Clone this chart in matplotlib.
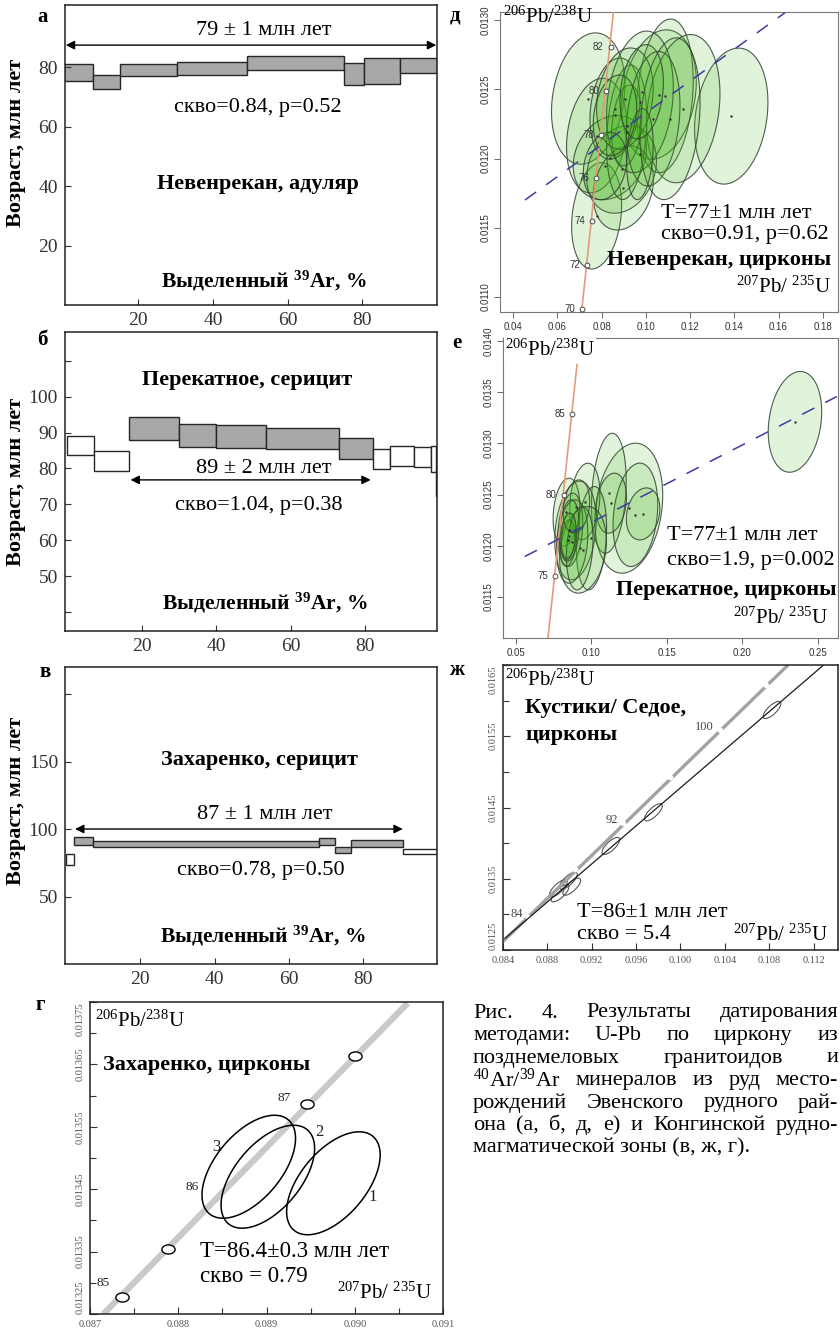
import numpy as np
import matplotlib
matplotlib.use('Agg')
import matplotlib.pyplot as plt
from matplotlib.path import Path
from matplotlib.transforms import Affine2D
from matplotlib.ticker import MultipleLocator, FixedLocator, FormatStrFormatter

plt.rcParams['font.family'] = ['Liberation Serif', 'DejaVu Serif']
plt.rcParams['mathtext.default'] = 'regular'

SANS = ['Liberation Sans', 'DejaVu Sans']
W, H = 840, 1331

AGE_LABEL = 'Возраст, млн лет'
AR_LABEL = r'Выделенный $^{39}$Ar, %'
PB206 = r'$^{206}$Pb/$^{238}$U'
PB207 = r'$^{207}$Pb/ $^{235}$U'

# 40Ar/39Ar spectra: step edges (cumulative 39Ar, %), age limits (Ma), plateau steps
a_edges = [0, 8, 15, 30.5, 49, 75, 80.5, 90, 100]
a_lo = [75.3, 72.8, 77.2, 77.4, 79.0, 74.1, 74.5, 78.1]
a_hi = [81.2, 77.4, 81.2, 81.8, 83.7, 81.5, 83.3, 83.0]
a_plateau = [1, 1, 1, 1, 1, 1, 1, 1]

b_edges = [0, 7.3, 16.5, 30.1, 39.9, 53.4, 72.9, 82.1, 86.8, 93.1, 97.8, 98.9, 99.3]
b_lo = [83.8, 79.3, 88.0, 86.1, 85.8, 85.3, 82.6, 79.9, 80.7, 80.5, 78.9, 72.2]
b_hi = [89.1, 84.9, 94.2, 92.3, 92.1, 91.2, 88.4, 85.4, 86.3, 86.1, 86.3, 79.6]
b_plateau = [0, 0, 1, 1, 1, 1, 1, 0, 0, 0, 0, 0]

v_edges = [0, 2.1, 7.4, 68.1, 72.4, 76.7, 90.6, 99.8]
v_lo = [73.2, 88.1, 86.4, 88.1, 81.9, 86.4, 81.2]
v_hi = [81.2, 94.0, 91.1, 93.3, 86.4, 91.8, 85.4]
v_plateau = [0, 1, 1, 1, 1, 1, 0]

# U-Pb, Невенрекан: ellipse centres and half-axes (207Pb/235U, 206Pb/238U)
d_cx = [0.1386, 0.0739, 0.0777, 0.1059, 0.1086, 0.1169, 0.0777, 0.0837, 0.0890, 0.0898, 0.0913,
        0.0913, 0.0860, 0.0973, 0.0905, 0.1033, 0.1109, 0.0815, 0.0973, 0.0860, 0.0981]
d_cy = [0.012307, 0.012434, 0.011586, 0.012463, 0.012453, 0.012361, 0.012166, 0.012007, 0.011922,
        0.011788, 0.012190, 0.012239, 0.012361, 0.012410, 0.012434, 0.012288, 0.012288, 0.011946,
        0.012032, 0.012312, 0.012483]
d_sx = [0.0166, 0.0166, 0.0113, 0.0169, 0.0128, 0.0166, 0.0136, 0.0166, 0.0158, 0.0136, 0.0091,
        0.0068, 0.0113, 0.0151, 0.0128, 0.0121, 0.0136, 0.0098, 0.0060, 0.0098, 0.0098]
d_sy = [0.000492, 0.000475, 0.000385, 0.000468, 0.000556, 0.000536, 0.000414, 0.000305, 0.000317,
        0.000305, 0.000487, 0.000292, 0.000366, 0.000512, 0.000366, 0.000487, 0.000585, 0.000244,
        0.000329, 0.000292, 0.000341]
d_conc_age = [70, 72, 74, 76, 78, 80, 82]
d_conc_x = [0.0710, 0.0733, 0.0755, 0.0776, 0.0797, 0.0819, 0.0841]
d_conc_y = [0.01091, 0.01123, 0.01155, 0.01186, 0.01217, 0.01249, 0.01281]
d_curve_x = [0.0709, 0.0853]
d_curve_y = [0.01089, 0.01306]
d_fit_x = [0.0453, 0.1629]
d_fit_y = [0.01170, 0.013055]

# U-Pb, Перекатное
e_cx = [0.2350, 0.1249, 0.1117, 0.1293, 0.1344, 0.1134, 0.0958, 0.1002, 0.0896, 0.0836, 0.0946,
        0.0862, 0.0847, 0.0847, 0.0874, 0.0902, 0.0924, 0.0850, 0.0855]
e_cy = [0.013211, 0.012368, 0.012514, 0.012303, 0.012312, 0.012417, 0.012433, 0.012075, 0.012150,
        0.012329, 0.011961, 0.012156, 0.012059, 0.012059, 0.012042, 0.012384, 0.011977, 0.012100,
        0.012150]
e_sx = [0.0177, 0.0225, 0.0115, 0.0148, 0.0111, 0.0100, 0.0100, 0.0100, 0.0137, 0.0088, 0.0155,
        0.0082, 0.0055, 0.0044, 0.0104, 0.0088, 0.0088, 0.0050, 0.0065]
e_sy = [0.000492, 0.000635, 0.000586, 0.000505, 0.000254, 0.000293, 0.000374, 0.000505, 0.000482,
        0.000332, 0.000423, 0.000358, 0.000260, 0.000195, 0.000407, 0.000260, 0.000407, 0.000220,
        0.000300]
e_conc_age = [75, 80, 85]
e_conc_x = [0.0759, 0.0818, 0.0873]
e_conc_y = [0.011707, 0.012498, 0.013286]
e_curve_x = [0.0714, 0.0906]
e_curve_y = [0.01110, 0.01377]
e_fit_x = [0.0560, 0.2627]
e_fit_y = [0.011896, 0.013458]

# U-Pb, Кустики/Седое
zh_cx = [0.10825, 0.09756, 0.09372, 0.08989, 0.08899, 0.08914, 0.09020]
zh_cy = [0.015868, 0.014433, 0.013960, 0.013473, 0.013366, 0.013296, 0.013388]
zh_conc_age = [84, 88, 92, 96, 100, 104]
zh_conc_x = [0.08628, 0.09050, 0.09486, 0.09907, 0.10352, 0.10773]
zh_conc_y = [0.012963, 0.013633, 0.014287, 0.014932, 0.015588, 0.016219]
zh_curve_x = [0.0840, 0.1097]
zh_curve_y = [0.01262, 0.01650]
zh_fit_x = [0.08418, 0.1129]
zh_fit_y = [0.012664, 0.01650]
zh_yticks = [0.0125, 0.0135, 0.0145, 0.0155, 0.0165]

# U-Pb, Захаренко
g_cx = [0.089758, 0.089015, 0.088799]
g_cy = [0.0134595, 0.013470, 0.013486]
g_names = ['1', '2', '3']
g_name_x = [0.090201, 0.089594, 0.088432]
g_name_y = [0.013438, 0.013541, 0.013518]
g_conc_x = [0.08736, 0.087883, 0.089455, 0.090003]
g_conc_y = [0.013277, 0.013354, 0.013586, 0.013664]
g_age = ['85', '86', '87']
g_age_x = [0.087151, 0.088156, 0.089205]
g_age_y = [0.013300, 0.013454, 0.013596]
g_curve_x = [0.087151, 0.090599]
g_curve_y = [0.013250, 0.013748]
g_yticks = [0.01325, 0.01335, 0.01345, 0.01355, 0.01365, 0.01375]

caption = [
    ['Рис.', '4.', 'Результаты', 'датирования'],
    ['методами:', 'U-Pb', 'по', 'циркону', 'из'],
    ['позднемеловых', 'гранитоидов', 'и'],
    [r'$^{40}$Ar/$^{39}$Ar', 'минералов', 'из', 'руд', 'место-'],
    ['рождений', 'Эвенского', 'рудного', 'рай-'],
    ['она', '(а,', 'б,', 'д,', 'е)', 'и', 'Конгинской', 'рудно-'],
    ['магматической зоны (в, ж, г).'],
]

fig = plt.figure(figsize=(W / 100, H / 100), dpi=100)


def px_axes(left, top, right, bottom):
    return fig.add_axes([left / W, 1 - bottom / H, (right - left) / W, (bottom - top) / H])


def px_text(x, y, s, **kw):
    return fig.text(x / W, 1 - y / H, s, **kw)


def error_ellipse(ax, cx, cy, sx, sy, rho, **kw):
    t = np.linspace(0, 2 * np.pi, 120)
    x = cx + sx * np.cos(t)
    y = cy + sy * (rho * np.cos(t) + np.sqrt(1 - rho ** 2) * np.sin(t))
    ax.fill(x, y, **kw)


def spectrum(ax, edges, lo, hi, plateau, xlim, ylim, yticks, ylabels, label_y):
    edges = np.asarray(edges)
    lo = np.asarray(lo)
    hi = np.asarray(hi)
    colors = ['#a8a8a8' if p else 'white' for p in plateau]
    ax.bar(edges[:-1], hi - lo, width=np.diff(edges), bottom=lo, align='edge',
           color=colors, edgecolor='#262626', linewidth=1.0)
    ax.set_xlim(xlim)
    ax.set_ylim(ylim)
    ax.set_xticks([20, 40, 60, 80])
    ax.set_yticks(yticks)
    ax.set_yticklabels(ylabels)
    ax.tick_params(direction='in', length=4, width=0.8, labelsize=14,
                   colors='#333333', pad=5)
    for s in ax.spines.values():
        s.set_linewidth(1.1)
        s.set_color('#222222')
    ax.set_ylabel(AGE_LABEL, fontsize=16, fontweight='bold')
    ax.yaxis.set_label_coords(-0.104, label_y)


def plateau_arrow(ax, x0, x1, y):
    ax.annotate('', xy=(x1, y), xytext=(x0, y),
                arrowprops=dict(arrowstyle='<|-|>', color='black', lw=1.0,
                                mutation_scale=13, shrinkA=0, shrinkB=0))


def ctext(ax, x, y, s, size=16, bold=False):
    ax.text(x, y, s, ha='center', va='center', fontsize=size,
            fontweight='bold' if bold else 'normal')


# а
ax = px_axes(65, 5, 437, 305)
spectrum(ax, a_edges, a_lo, a_hi, a_plateau, (0.4, 100), (0, 101),
         [20, 40, 60, 80], ['20', '40', '60', '80'], 0.54)
plateau_arrow(ax, 0.6, 99.8, 87.5)
ctext(ax, 53.5, 92.5, '79 ± 1 млн лет')
ctext(ax, 52, 66.6, 'скво=0.84, p=0.52')
ctext(ax, 52, 40.8, 'Невенрекан, адуляр', bold=True)
ctext(ax, 53.5, 8.1, AR_LABEL, size=15.5, bold=True)

# б
ax = px_axes(65, 332, 437, 631)
spectrum(ax, b_edges, b_lo, b_hi, b_plateau, (-0.6, 99.3), (34.7, 118),
         [40, 50, 60, 70, 80, 90, 100, 110], ['', '50', '60', '70', '80', '90', '100', ''], 0.5)
plateau_arrow(ax, 17, 81.5, 76.8)
ctext(ax, 48.3, 104.6, 'Перекатное, серицит', bold=True)
ctext(ax, 52.7, 80.0, '89 ± 2 млн лет')
ctext(ax, 51.5, 69.8, 'скво=1.04, p=0.38')
ctext(ax, 53, 42.5, AR_LABEL, size=15.5, bold=True)

# в
ax = px_axes(65, 667, 437, 964)
spectrum(ax, v_edges, v_lo, v_hi, v_plateau, (-0.2, 99.8), (0, 220),
         [50, 100, 150, 200], ['50', '100', '150', ''], 0.55)
plateau_arrow(ax, 2.5, 90.6, 100)
ctext(ax, 52, 151, 'Захаренко, серицит', bold=True)
ctext(ax, 53.6, 110.4, '87 ± 1 млн лет')
ctext(ax, 52.5, 69.5, 'скво=0.78, p=0.50')
ctext(ax, 53, 21, AR_LABEL, size=15.5, bold=True)


def zircon_axes(ax, xlim, ylim, xstep, ystep, xfmt, yfmt):
    ax.set_xlim(xlim)
    ax.set_ylim(ylim)
    ax.xaxis.set_major_locator(MultipleLocator(xstep))
    ax.yaxis.set_major_locator(MultipleLocator(ystep))
    ax.xaxis.set_major_formatter(FormatStrFormatter(xfmt))
    ax.yaxis.set_major_formatter(FormatStrFormatter(yfmt))
    ax.tick_params(direction='out', length=4, width=0.7, colors='#666666',
                   labelsize=7, labelcolor='#333333', pad=3)
    ax.tick_params(axis='y', labelrotation=90)
    for lab in ax.get_yticklabels():
        lab.set_family(SANS)
        lab.set_va('center')
    for lab in ax.get_xticklabels():
        lab.set_family(SANS)
    for s in ax.spines.values():
        s.set_linewidth(0.8)
        s.set_color('#777777')


def zircon_text(ax, x, y, s, ha='left', size=16, bold=False, **kw):
    ax.text(x, y, s, transform=ax.transAxes, fontsize=size, ha=ha, va='center',
            fontweight='bold' if bold else 'normal', **kw)


# д
ax = px_axes(500, 12, 838, 312)
zircon_axes(ax, (0.034, 0.1869), (0.01089, 0.01306), 0.02, 0.0005, '%.2f', '%.4f')
for cx, cy, sx, sy in zip(d_cx, d_cy, d_sx, d_sy):
    error_ellipse(ax, cx, cy, sx, sy, 0.2, facecolor=(0.24, 0.70, 0.08, 0.15),
                  edgecolor=(0.2, 0.25, 0.2, 0.85), linewidth=0.8)
ax.plot(d_cx, d_cy, linestyle='none', marker='.', ms=1.5, color='#333333')
ax.plot(d_curve_x, d_curve_y, color='#e39a7a', lw=1.2, zorder=3)
ax.plot(d_conc_x, d_conc_y, linestyle='none', marker='o', ms=3.5, mfc='white',
        mec='#333333', mew=0.6, zorder=4)
for age, x, y in zip(d_conc_age, d_conc_x, d_conc_y):
    ax.annotate(str(age), (x, y), xytext=(-5, 0), textcoords='offset points',
                ha='right', va='center', fontsize=7, family=SANS, color='#333333')
ax.plot(d_fit_x, d_fit_y, color='#3c3ca0', lw=1.1, dashes=(9, 8), zorder=5)
zircon_text(ax, 0.01, 0.983, PB206, size=15)
zircon_text(ax, 0.476, 0.329, 'T=77±1 млн лет')
zircon_text(ax, 0.476, 0.257, 'скво=0.91, p=0.62')
zircon_text(ax, 0.98, 0.173, 'Невенрекан, цирконы', ha='right', bold=True)
zircon_text(ax, 0.98, 0.083, PB207, ha='right', size=15)

# е
ax = px_axes(503, 338, 838, 638)
zircon_axes(ax, (0.0416, 0.2635), (0.0111, 0.01403), 0.05, 0.0005, '%.2f', '%.4f')
for cx, cy, sx, sy in zip(e_cx, e_cy, e_sx, e_sy):
    error_ellipse(ax, cx, cy, sx, sy, 0.2, facecolor=(0.24, 0.70, 0.08, 0.15),
                  edgecolor=(0.2, 0.25, 0.2, 0.85), linewidth=0.8)
ax.plot(e_cx, e_cy, linestyle='none', marker='.', ms=1.5, color='#333333')
ax.plot(e_curve_x, e_curve_y, color='#e39a7a', lw=1.2, zorder=3)
ax.plot(e_conc_x, e_conc_y, linestyle='none', marker='o', ms=3.5, mfc='white',
        mec='#333333', mew=0.6, zorder=4)
for age, x, y in zip(e_conc_age, e_conc_x, e_conc_y):
    ax.annotate(str(age), (x, y), xytext=(-5, 0), textcoords='offset points',
                ha='right', va='center', fontsize=7, family=SANS, color='#333333')
ax.plot(e_fit_x, e_fit_y, color='#3c3ca0', lw=1.1, dashes=(9, 8), zorder=5)
zircon_text(ax, 0.006, 0.96, PB206, size=15,
            bbox=dict(facecolor='white', edgecolor='none', pad=1), zorder=6)
zircon_text(ax, 0.489, 0.343, 'T=77±1 млн лет')
zircon_text(ax, 0.489, 0.26, 'скво=1.9, p=0.002')
zircon_text(ax, 0.997, 0.16, 'Перекатное, цирконы', ha='right', bold=True)
zircon_text(ax, 0.97, 0.067, PB207, ha='right', size=15)


def serif_concordia_axes(ax, xlim, ylim, xstep, xminor, yticks, yminor, xfmt, yfmt):
    ax.set_xlim(xlim)
    ax.set_ylim(ylim)
    ax.xaxis.set_major_locator(MultipleLocator(xstep))
    ax.xaxis.set_minor_locator(MultipleLocator(xminor))
    ax.yaxis.set_major_locator(FixedLocator(yticks))
    ax.yaxis.set_minor_locator(MultipleLocator(yminor))
    ax.xaxis.set_major_formatter(FormatStrFormatter(xfmt))
    ax.yaxis.set_major_formatter(FormatStrFormatter(yfmt))
    ax.tick_params(which='both', direction='in', width=0.8, colors='#333333',
                   labelsize=7.5, labelcolor='#555555', pad=4)
    ax.tick_params(which='major', length=5)
    ax.tick_params(which='minor', length=4)
    ax.tick_params(axis='y', labelrotation=90)
    labs = ax.get_yticklabels()
    for lab in labs:
        lab.set_va('center')
    labs[0].set_va('bottom')
    labs[-1].set_va('top')
    for s in ax.spines.values():
        s.set_linewidth(1.1)
        s.set_color('#222222')


# ж
ax = px_axes(503, 665, 838, 950)
serif_concordia_axes(ax, (0.084, 0.1142), (0.0125, 0.0165), 0.004, 0.004, zh_yticks, 0.0005,
                     '%.3f', '%.4f')
ax.plot(zh_curve_x, zh_curve_y, color='#a2a2a2', lw=2.4, solid_capstyle='butt')
ax.plot(zh_conc_x, zh_conc_y, linestyle='none', marker='o', ms=4, mfc='white', mec='none')
ax.plot(zh_fit_x, zh_fit_y, color='#1a1a1a', lw=0.9)
for cx, cy in zip(zh_cx, zh_cy):
    error_ellipse(ax, cx, cy, 0.0008, 0.00012, 0.75, facecolor='none',
                  edgecolor='#555555', linewidth=0.8)
for age, x, y in zip(zh_conc_age, zh_conc_x, zh_conc_y):
    if age in (84, 92, 100):
        ax.annotate(str(age), (x, y), xytext=(-4, 2), textcoords='offset points',
                    ha='right', va='center', fontsize=9, color='#444444')
zircon_text(ax, 0.005, 0.947, PB206, size=15)
zircon_text(ax, 0.066, 0.849, 'Кустики/ Седое,', bold=True)
zircon_text(ax, 0.066, 0.754, 'цирконы', bold=True)
zircon_text(ax, 0.22, 0.13, 'T=86±1 млн лет')
zircon_text(ax, 0.22, 0.055, 'скво = 5.4')
zircon_text(ax, 0.97, 0.053, PB207, ha='right', size=15)

# г
ax = px_axes(90, 1002, 443, 1314)
serif_concordia_axes(ax, (0.087, 0.091), (0.01325, 0.01375), 0.001, 0.0005, g_yticks, 0.00005,
                     '%.3f', '%.5f')
ax.plot(g_curve_x, g_curve_y, color='#c9c9c9', lw=4.5, solid_capstyle='butt')
mark = Path.unit_circle().transformed(Affine2D().scale(1.45, 1.0))
ax.plot(g_conc_x, g_conc_y, linestyle='none', marker=mark, ms=9.5, mfc='white',
        mec='black', mew=1.0, zorder=4)
for cx, cy in zip(g_cx, g_cy):
    error_ellipse(ax, cx, cy, 0.00053, 0.0000825, 0.55, facecolor='none',
                  edgecolor='black', linewidth=1.1, zorder=5)
for s, x, y in zip(g_names, g_name_x, g_name_y):
    ax.text(x, y, s, fontsize=12, ha='center', va='center', color='#222222')
for s, x, y in zip(g_age, g_age_x, g_age_y):
    ax.text(x, y, s, fontsize=9.5, ha='center', va='center', color='#222222')
zircon_text(ax, 0.014, 0.937, PB206, size=15)
zircon_text(ax, 0.036, 0.798, 'Захаренко, цирконы', bold=True)
zircon_text(ax, 0.312, 0.2, 'T=86.4±0.3 млн лет', size=16.5)
zircon_text(ax, 0.312, 0.12, 'скво = 0.79', size=16.5)
zircon_text(ax, 0.969, 0.066, PB207, ha='right', size=15)

# panel letters
for s, x, y in [('а', 43, 17), ('б', 42, 340), ('в', 45, 672), ('г', 40, 1005),
                ('д', 455, 15), ('е', 457, 343), ('ж', 457, 670)]:
    px_text(x, y, s, fontsize=15, fontweight='bold', ha='center', va='center')

# caption, justified between two margins
renderer = fig.canvas.get_renderer()
x_left, x_right = 473, 838
for i, words in enumerate(caption):
    y = 1013 + i * 22.5
    texts = [px_text(0, y, w, fontsize=16, ha='left', va='center') for w in words]
    if len(words) == 1:
        texts[0].set_position((x_left / W, 1 - y / H))
        continue
    widths = [t.get_window_extent(renderer).width for t in texts]
    gap = (x_right - x_left - sum(widths)) / (len(words) - 1)
    x = x_left
    for t, w in zip(texts, widths):
        t.set_position((x / W, 1 - y / H))
        x += w + gap

fig.savefig('out.png', dpi=100)
